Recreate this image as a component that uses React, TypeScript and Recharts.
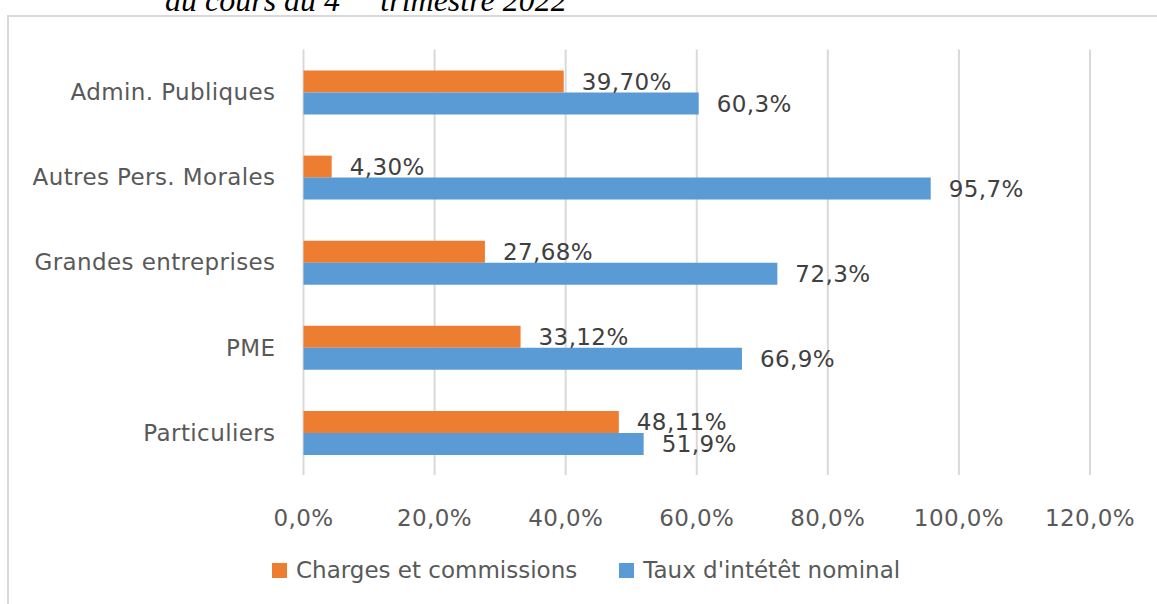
import React from "react";
import { BarChart, Bar, XAxis, YAxis, CartesianGrid, LabelList } from "recharts";

const categories = [
  "Admin. Publiques",
  "Autres Pers. Morales",
  "Grandes entreprises",
  "PME",
  "Particuliers",
];
const charges = [39.7, 4.3, 27.68, 33.12, 48.11];
const taux = [60.3, 95.7, 72.3, 66.9, 51.9];
const xTicks = [0, 20, 40, 60, 80, 100, 120];
const seriesNames = ["Charges et commissions", "Taux d'intétêt nominal"];
const seriesColors = ["#ED7D31", "#5B9BD5"];

const data = categories.map((name, i) => ({
  name,
  charges: charges[i],
  taux: taux[i],
}));

const FONT = "'DejaVu Sans', sans-serif";
const textStyle = { fontSize: 23, fontFamily: FONT, letterSpacing: "0.4px" };
const fmt = (v: number, d: number) => `${v.toFixed(d).replace(".", ",")}%`;

export default function App() {
  return (
    <div
      style={{
        position: "absolute",
        left: 0,
        top: 0,
        width: 1157,
        height: 604,
        overflow: "hidden",
        background: "#fff",
      }}
    >
      <div
        style={{
          position: "absolute",
          left: 165,
          top: -28,
          fontFamily: "'Liberation Serif', serif",
          fontStyle: "italic",
          fontSize: 32,
          lineHeight: "40px",
          color: "#000",
          whiteSpace: "nowrap",
        }}
      >
        du cours du 4<sup style={{ fontSize: 20 }}>ème</sup> trimestre 2022
      </div>
      <div
        style={{
          position: "absolute",
          left: 7,
          top: 15,
          width: 1200,
          height: 700,
          border: "2px solid #d9d9d9",
        }}
      />
      <div style={{ position: "absolute", left: 0, top: 0 }}>
        <BarChart
          width={1157}
          height={604}
          data={data}
          layout="vertical"
          margin={{ top: 49.5, right: 67, bottom: 89, left: 0 }}
          barGap={0}
          barSize={22}
        >
          <CartesianGrid horizontal={false} stroke="#d9d9d9" strokeWidth={2} />
          <XAxis
            type="number"
            domain={[0, 120]}
            ticks={xTicks}
            axisLine={false}
            tickLine={false}
            tickSize={0}
            tickMargin={35}
            height={40}
            tickFormatter={(v: number) => fmt(v, 1)}
            tick={{ fill: "#595959", ...textStyle }}
          />
          <YAxis
            type="category"
            dataKey="name"
            width={303.5}
            axisLine={false}
            tickLine={false}
            tickSize={0}
            tickMargin={28}
            tick={{ fill: "#595959", ...textStyle }}
          />
          <Bar dataKey="charges" fill={seriesColors[0]} isAnimationActive={false}>
            <LabelList
              dataKey="charges"
              position="right"
              offset={18}
              formatter={(v: number) => fmt(v, 2)}
              style={{ fill: "#404040", ...textStyle }}
            />
          </Bar>
          <Bar dataKey="taux" fill={seriesColors[1]} isAnimationActive={false}>
            <LabelList
              dataKey="taux"
              position="right"
              offset={18}
              formatter={(v: number) => fmt(v, 1)}
              style={{ fill: "#404040", ...textStyle }}
            />
          </Bar>
        </BarChart>
      </div>
      <div
        style={{
          position: "absolute",
          left: 272,
          top: 556,
          display: "flex",
          gap: 42,
          fontFamily: FONT,
          fontSize: 23,
          color: "#595959",
          lineHeight: "28px",
          whiteSpace: "nowrap",
        }}
      >
        {seriesNames.map((n, i) => (
          <div key={n} style={{ display: "flex", alignItems: "center" }}>
            <span
              style={{
                display: "inline-block",
                width: 15,
                height: 15,
                background: seriesColors[i],
                marginRight: 9,
              }}
            />
            <span>{n}</span>
          </div>
        ))}
      </div>
    </div>
  );
}
